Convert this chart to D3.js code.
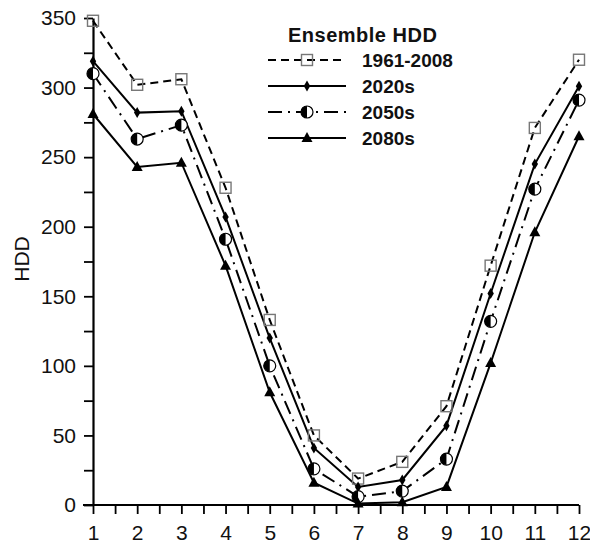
<!DOCTYPE html>
<html>
<head>
<meta charset="utf-8">
<script src="https://cdn.jsdelivr.net/npm/d3@7"></script>
<style>
  body { margin: 0; background: #fff; }
  text { font-family: "Liberation Sans", Arial, sans-serif; }
</style>
</head>
<body>
<script>
var months = [1, 2, 3, 4, 5, 6, 7, 8, 9, 10, 11, 12];
var seriesNames = ['1961-2008', '2020s', '2050s', '2080s'];
var hdd19612008 = [348, 302, 306, 228, 133, 50, 19, 31, 71, 172, 271, 320];
var hdd2020s = [319, 282, 283, 207, 120, 41, 13, 18, 57, 152, 245, 301];
var hdd2050s = [310, 263, 273, 191, 100, 26, 6, 10, 33, 132, 227, 291];
var hdd2080s = [281, 243, 246, 172, 81, 16, 1, 2, 13, 102, 196, 265];
var yTicks = [0, 25, 50, 75, 100, 125, 150, 175, 200, 225, 250, 275, 300, 325, 350];
var xTicks = [1, 1.5, 2, 2.5, 3, 3.5, 4, 4.5, 5, 5.5, 6, 6.5, 7, 7.5, 8, 8.5, 9, 9.5, 10, 10.5, 11, 11.5, 12];
var legendTitle = 'Ensemble HDD';
var yLabel = 'HDD';

var width = 590, height = 545;

var svg = d3.select('body').append('svg').attr('width', width).attr('height', height);

var x = d3.scaleLinear().domain([1, 12]).range([93, 579]);
var y = d3.scaleLinear().domain([0, 350]).range([505, 18]);

// axes
var yAxis = d3.axisLeft(y).tickValues(yTicks).tickSize(9).tickSizeOuter(0).tickPadding(8)
  .tickFormat(function (d) { return d % 50 === 0 ? d : ''; });
var xAxis = d3.axisBottom(x).tickValues(xTicks).tickSize(9).tickSizeOuter(0).tickPadding(11)
  .tickFormat(function (d) { return d % 1 === 0 ? d : ''; });

var gy = svg.append('g').attr('transform', 'translate(93,0)').call(yAxis);
var gx = svg.append('g').attr('transform', 'translate(0,505)').call(xAxis);

[gy, gx].forEach(function (g) {
  g.select('.domain').attr('stroke', '#000').attr('stroke-width', 2.2);
  g.selectAll('.tick line').attr('stroke', '#000').attr('stroke-width', 1.8);
  g.selectAll('.tick text').attr('fill', '#111').style('font-size', '21px');
});
gx.select('.domain').attr('d', 'M' + (x(1) - 10) + ',0H' + x(12));

svg.append('text')
  .attr('transform', 'translate(29,259) rotate(-90)')
  .attr('text-anchor', 'middle')
  .style('font-size', '21px')
  .attr('fill', '#111')
  .text(yLabel);

var series = [
  { name: seriesNames[0], values: hdd19612008, dash: '8,5', marker: 'square' },
  { name: seriesNames[1], values: hdd2020s, dash: null, marker: 'diamond' },
  { name: seriesNames[2], values: hdd2050s, dash: '14,6,2,6', marker: 'halfcircle' },
  { name: seriesNames[3], values: hdd2080s, dash: null, marker: 'triangle' }
];

var line = d3.line()
  .x(function (d, i) { return x(months[i]); })
  .y(function (d) { return y(d); });

function drawMarker(g, type) {
  if (type === 'square') {
    g.append('rect').attr('x', -5.5).attr('y', -5.5).attr('width', 11).attr('height', 11)
      .attr('fill', 'none').attr('stroke', '#777').attr('stroke-width', 1.4);
  } else if (type === 'diamond') {
    g.append('path').attr('d', 'M0,-5.5L3.2,0L0,5.5L-3.2,0Z').attr('fill', '#000');
  } else if (type === 'halfcircle') {
    g.append('circle').attr('r', 6).attr('fill', '#fff').attr('stroke', '#000').attr('stroke-width', 1.2);
    g.append('path').attr('d', 'M0,-6A6,6 0 0,0 0,6Z').attr('fill', '#000');
  } else {
    g.append('path').attr('d', 'M0,-6L5.5,4L-5.5,4Z').attr('fill', '#000');
  }
}

series.forEach(function (s) {
  svg.append('path')
    .datum(s.values)
    .attr('d', line)
    .attr('fill', 'none')
    .attr('stroke', '#000')
    .attr('stroke-width', 2)
    .attr('stroke-dasharray', s.dash);
});

series.forEach(function (s) {
  svg.selectAll(null)
    .data(s.values)
    .enter()
    .append('g')
    .attr('transform', function (d, i) { return 'translate(' + x(months[i]) + ',' + y(d) + ')'; })
    .each(function () { drawMarker(d3.select(this), s.marker); });
});

// legend
var legend = svg.append('g');
legend.append('text')
  .attr('x', 288).attr('y', 42)
  .style('font-size', '20px').style('font-weight', 'bold').style('letter-spacing', '0.5px')
  .attr('fill', '#111')
  .text(legendTitle);

series.forEach(function (s, i) {
  var ly = 60 + i * 26;
  legend.append('line')
    .attr('x1', 268).attr('x2', 346).attr('y1', ly).attr('y2', ly)
    .attr('stroke', '#000').attr('stroke-width', 2)
    .attr('stroke-dasharray', s.dash);
  var m = legend.append('g').attr('transform', 'translate(307,' + ly + ')');
  drawMarker(m, s.marker);
  legend.append('text')
    .attr('x', 362).attr('y', ly + 7)
    .style('font-size', '19px').style('font-weight', 'bold').attr('fill', '#111')
    .text(s.name);
});
</script>
</body>
</html>
